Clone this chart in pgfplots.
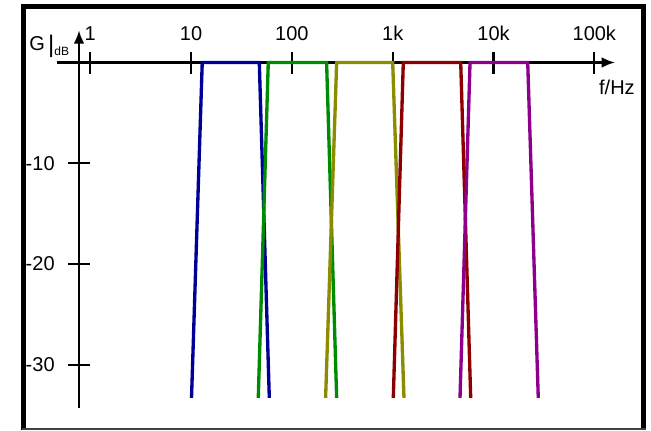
\documentclass[border=0pt]{standalone}
\usepackage{fontspec}
\setmainfont{Liberation Sans}
\usepackage{pgfplots}
\pgfplotsset{compat=1.18}
\usetikzlibrary{arrows.meta}
\definecolor{bandA}{RGB}{0,0,150}
\definecolor{bandB}{RGB}{0,140,0}
\definecolor{bandC}{RGB}{140,140,0}
\definecolor{bandD}{RGB}{140,0,0}
\definecolor{bandE}{RGB}{140,0,140}
\newcommand{\lblfont}{\fontsize{15}{18}\selectfont}
\begin{document}
\begin{tikzpicture}[x=1pt,y=1pt]
\path[use as bounding box] (-59.25,-16.3) rectangle (429,306.2);
\draw[line width=3.5pt] (-41.6,-16.3) -- (-41.6,301.2) -- (423.4,301.2) -- (423.4,-16.3);
\draw[line width=1.5pt, black!75] (-43,-15.6) -- (425,-15.6);
\begin{axis}[
    at={(0,0)}, anchor=south west,
    scale only axis,
    width=402pt, height=283.5pt,
    xmode=log,
    xmin=0.773, xmax=160400,
    ymin=-34.33, ymax=3.2,
    axis x line=middle,
    axis y line=left,
    x axis line style={line width=1.7pt, shorten <=-16.5pt, -{Latex[length=10pt,width=8pt]}},
    y axis line style={line width=1.7pt, -{Latex[length=10pt,width=8pt]}},
    xtick={1,10,100,1000,10000,100000},
    xticklabels={1,10,100,1k,10k,100k},
    ytick={-30,-20,-10},
    yticklabels={-30,-20,-10},
    xminorticks=false, yminorticks=false,
    tick align=center,
    major tick length=16.5pt,
    tick style={black, line width=1.7pt},
    xticklabel style={font=\lblfont, anchor=base, yshift=25pt},
    yticklabel style={font=\lblfont, anchor=east, xshift=-6.5pt},
    clip=false,
    every axis plot/.append style={line width=2.5pt, miter limit=3},
]
\addplot[bandA] coordinates {(10.1,-33.3) (12.9,0) (47.5,0) (59.7,-33.3)};
\addplot[bandB] coordinates {(46.4,-33.3) (58.3,0) (221,0) (278,-33.3)};
\addplot[bandC] coordinates {(216,-33.3) (278,0) (1000,0) (1294,-33.3)};
\addplot[bandD] coordinates {(1014,-33.3) (1274,0) (4728,0) (5940,-33.3)};
\addplot[bandE] coordinates {(4653,-33.3) (5850,0) (21850,0) (27800,-33.3)};
\end{axis}
\node[anchor=base west, inner sep=0pt, font=\lblfont] at (-37.5,268.7)
  {G\,\raisebox{-1.5pt}{\fontsize{18}{18}\selectfont|}\raisebox{-4pt}{\fontsize{9}{9}\selectfont dB}};
\node[anchor=base east, inner sep=0pt, font=\lblfont] at (417,235) {f/Hz};
\end{tikzpicture}
\end{document}
